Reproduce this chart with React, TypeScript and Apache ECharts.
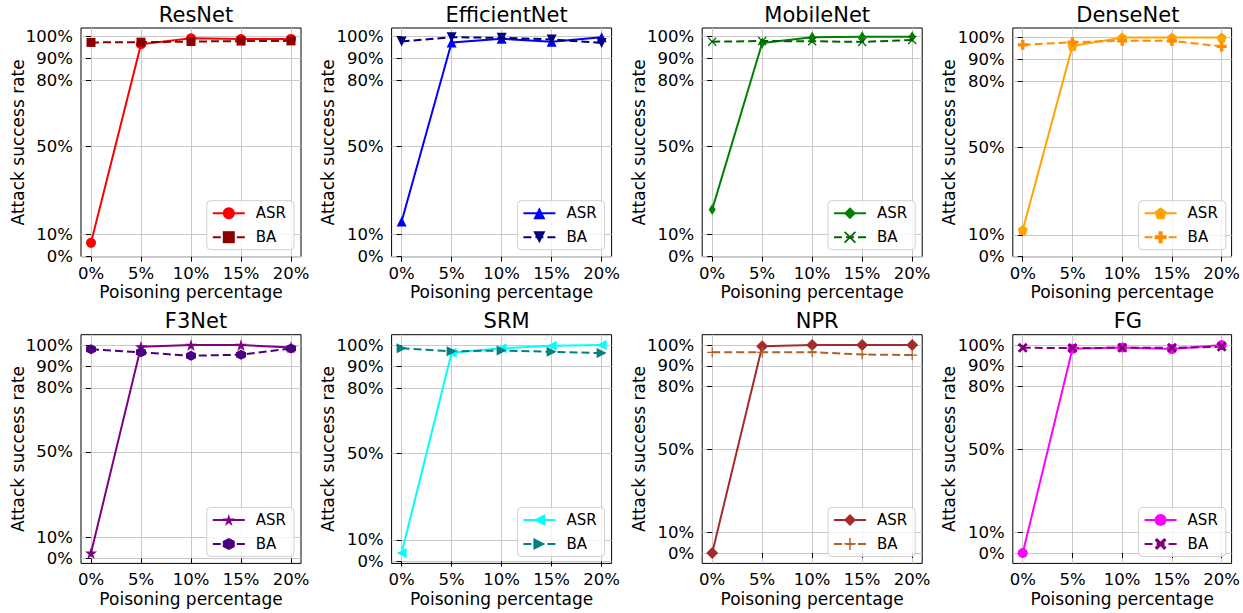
import React, { useEffect, useRef } from "react";
import * as echarts from "echarts";

const xValues = [0, 5, 10, 15, 20];
const xTicks = [0, 5, 10, 15, 20];
const yTicks = [0, 10, 50, 80, 90, 100];
const models = ["ResNet", "EfficientNet", "MobileNet", "DenseNet", "F3Net", "SRM", "NPR", "FG"];

const asrResNet = [6.3, 96.5, 99.2, 98.8, 98.9];
const baResNet = [97.3, 97.4, 97.7, 97.9, 98.0];
const asrEfficientNet = [16.0, 97.1, 98.8, 97.4, 99.5];
const baEfficientNet = [97.6, 99.5, 99.2, 98.5, 96.9];
const asrMobileNet = [21.5, 97.1, 99.7, 100, 100];
const baMobileNet = [97.7, 98.0, 97.9, 97.6, 98.5];
const asrDenseNet = [12.2, 96.2, 100, 100, 100];
const baDenseNet = [96.7, 97.9, 98.6, 98.5, 96.0];
const asrF3Net = [2.6, 99.2, 100, 100, 98.9];
const baF3Net = [98.1, 96.6, 95.0, 95.5, 98.4];
const asrSRM = [3.9, 96.5, 98.5, 99.7, 100];
const baSRM = [98.5, 97.1, 97.5, 96.9, 96.3];
const asrNPR = [0, 99.4, 100, 100, 100];
const baNPR = [96.5, 96.5, 96.6, 95.5, 95.2];
const asrFG = [0, 98.2, 98.9, 98.1, 100];
const baFG = [98.7, 98.6, 98.7, 98.7, 99.2];

const asrData = [asrResNet, asrEfficientNet, asrMobileNet, asrDenseNet, asrF3Net, asrSRM, asrNPR, asrFG];
const baData = [baResNet, baEfficientNet, baMobileNet, baDenseNet, baF3Net, baSRM, baNPR, baFG];

const asrColors = ["#ff0000", "#0000ff", "#008000", "#ffa500", "#800080", "#00ffff", "#a52a2a", "#ff00ff"];
const baColors = ["#8b0000", "#000080", "#006400", "#ff8c00", "#4b0082", "#008080", "#b0602a", "#800080"];

const SYM: Record<string, string> = {
  circle: "circle",
  square: "rect",
  triUp: "triangle",
  triDown: "path://M0,0 L10,0 L5,10 Z",
  thinDiamond: "path://M3,0 L6,5 L3,10 L0,5 Z",
  xLine: "path://M0,1 L1,0 L5,4 L9,0 L10,1 L6,5 L10,9 L9,10 L5,6 L1,10 L0,9 L4,5 Z",
  pentagon: "path://M5,0 L10,3.8 L8.1,10 L1.9,10 L0,3.8 Z",
  plusFilled: "path://M3.3,0 H6.7 V3.3 H10 V6.7 H6.7 V10 H3.3 V6.7 H0 V3.3 H3.3 Z",
  star: "path://M5,0 L6.18,3.62 L10,3.62 L6.91,5.86 L8.09,9.51 L5,7.24 L1.91,9.51 L3.09,5.86 L0,3.62 L3.82,3.62 Z",
  hexagon: "path://M5,0 L9.33,2.5 L9.33,7.5 L5,10 L0.67,7.5 L0.67,2.5 Z",
  triLeft: "path://M0,5 L10,0 L10,10 Z",
  triRight: "path://M10,5 L0,0 L0,10 Z",
  diamond: "diamond",
  plusLine: "path://M4.4,0 H5.6 V4.4 H10 V5.6 H5.6 V10 H4.4 V5.6 H0 V4.4 H4.4 Z",
  xFilled: "path://M0,2 L2,0 L5,3 L8,0 L10,2 L7,5 L10,8 L8,10 L5,7 L2,10 L0,8 L3,5 Z",
};

const asrSymbols = ["circle", "triUp", "thinDiamond", "pentagon", "star", "triLeft", "diamond", "circle"];
const baSymbols = ["square", "triDown", "xLine", "plusFilled", "hexagon", "triRight", "plusLine", "xFilled"];
const symSize: Record<string, any> = {
  circle: 10, square: 9, triUp: 10, triDown: 10, thinDiamond: [7, 11], xLine: 9,
  pentagon: 10, plusFilled: 10, star: 12, hexagon: 10, triLeft: 10, triRight: 10,
  diamond: 12, plusLine: 10, xFilled: 10,
};

const W = 1243;
const H = 613;
const FONT = "DejaVu Sans";

export default function App() {
  const ref = useRef<HTMLDivElement>(null);
  useEffect(() => {
    if (!ref.current) return;
    const chart = echarts.init(ref.current, undefined, { renderer: "svg" });
    const colLeft = [81, 391.6, 702.2, 1012.8];
    const rowTop = [28, 334.7];
    const gw = 220;
    const gh = 228.7;
    const grids: any[] = [];
    const xAxes: any[] = [];
    const yAxes: any[] = [];
    const titles: any[] = [];
    const legends: any[] = [];
    const series: any[] = [];
    models.forEach((m, i) => {
      const r = Math.floor(i / 4);
      const c = i % 4;
      const left = colLeft[c];
      const top = rowTop[r];
      grids.push({
        left, top, width: gw, height: gh, show: true,
        borderColor: "#000", borderWidth: 1, backgroundColor: "transparent",
      });
      xAxes.push({
        type: "value", gridIndex: i, min: -1, max: 21,
        name: "Poisoning percentage", nameLocation: "middle", nameGap: 27,
        nameMoveOverlap: false,
        nameTextStyle: { fontFamily: FONT, fontSize: 17, color: "#000" },
        axisLine: { show: false },
        axisTick: { show: true, customValues: xTicks, length: 5, lineStyle: { color: "#000" } },
        axisLabel: {
          customValues: xTicks, margin: 8, fontFamily: FONT, fontSize: 16.5, color: "#000",
          formatter: (v: number) => v + "%",
        },
        splitLine: { show: true, lineStyle: { color: "#c8c8c8", width: 1 } },
      });
      const all = asrData[i].concat(baData[i]);
      const lo = Math.min(...all);
      const hi = Math.max(...all);
      const mg = 0.05 * (hi - lo);
      yAxes.push({
        type: "value", gridIndex: i,
        min: Math.min(0, lo - mg), max: Math.max(100, hi + mg),
        name: "Attack success rate", nameLocation: "middle", nameGap: 55, nameRotate: 90,
        nameMoveOverlap: false,
        nameTextStyle: { fontFamily: FONT, fontSize: 17, color: "#000" },
        axisLine: { show: false },
        axisTick: { show: true, customValues: yTicks, length: 5, lineStyle: { color: "#000" } },
        axisLabel: {
          customValues: yTicks, margin: 8, fontFamily: FONT, fontSize: 16.5, color: "#000",
          formatter: (v: number) => v + "%",
        },
        splitLine: { show: true, lineStyle: { color: "#c8c8c8", width: 1 } },
      });
      titles.push({
        text: m, left: left + gw / 2, top: r === 0 ? -1 : 305.5, textAlign: "center",
        textStyle: { fontFamily: FONT, fontSize: 21, fontWeight: "normal", color: "#000" },
      });
      const asrName = "ASR#" + i;
      const baName = "BA#" + i;
      legends.push({
        data: [asrName, baName], orient: "vertical",
        right: W - (left + gw - 7), bottom: H - (top + gh - 7),
        itemWidth: 32, itemHeight: 15, itemGap: 9,
        padding: [5, 8, 5, 5],
        borderColor: "#d0d0d0", borderWidth: 1, borderRadius: 4,
        backgroundColor: "rgba(255,255,255,0.8)",
        textStyle: { fontFamily: FONT, fontSize: 15, color: "#000", padding: [0, 0, 0, 6] },
        formatter: (n: string) => n.split("#")[0],
        selectedMode: false,
      });
      const sa = asrSymbols[i];
      const sb = baSymbols[i];
      series.push({
        type: "line", name: asrName, xAxisIndex: i, yAxisIndex: i,
        data: xValues.map((x, j) => [x, asrData[i][j]]),
        symbol: SYM[sa], symbolSize: symSize[sa], showAllSymbol: true,
        color: asrColors[i],
        itemStyle: { color: asrColors[i] },
        lineStyle: { color: asrColors[i], width: 2 },
        z: 3,
      });
      series.push({
        type: "line", name: baName, xAxisIndex: i, yAxisIndex: i,
        data: xValues.map((x, j) => [x, baData[i][j]]),
        symbol: SYM[sb], symbolSize: symSize[sb], showAllSymbol: true,
        color: baColors[i],
        itemStyle: { color: baColors[i] },
        lineStyle: { color: baColors[i], width: 2, type: [8, 4] },
        z: 3,
      });
    });
    chart.setOption({
      animation: false,
      backgroundColor: "#fff",
      grid: grids,
      xAxis: xAxes,
      yAxis: yAxes,
      title: titles,
      legend: legends,
      series,
    });
    return () => chart.dispose();
  }, []);
  return (
    <div
      ref={ref}
      style={{ position: "absolute", left: 0, top: 0, width: W, height: H }}
    />
  );
}
